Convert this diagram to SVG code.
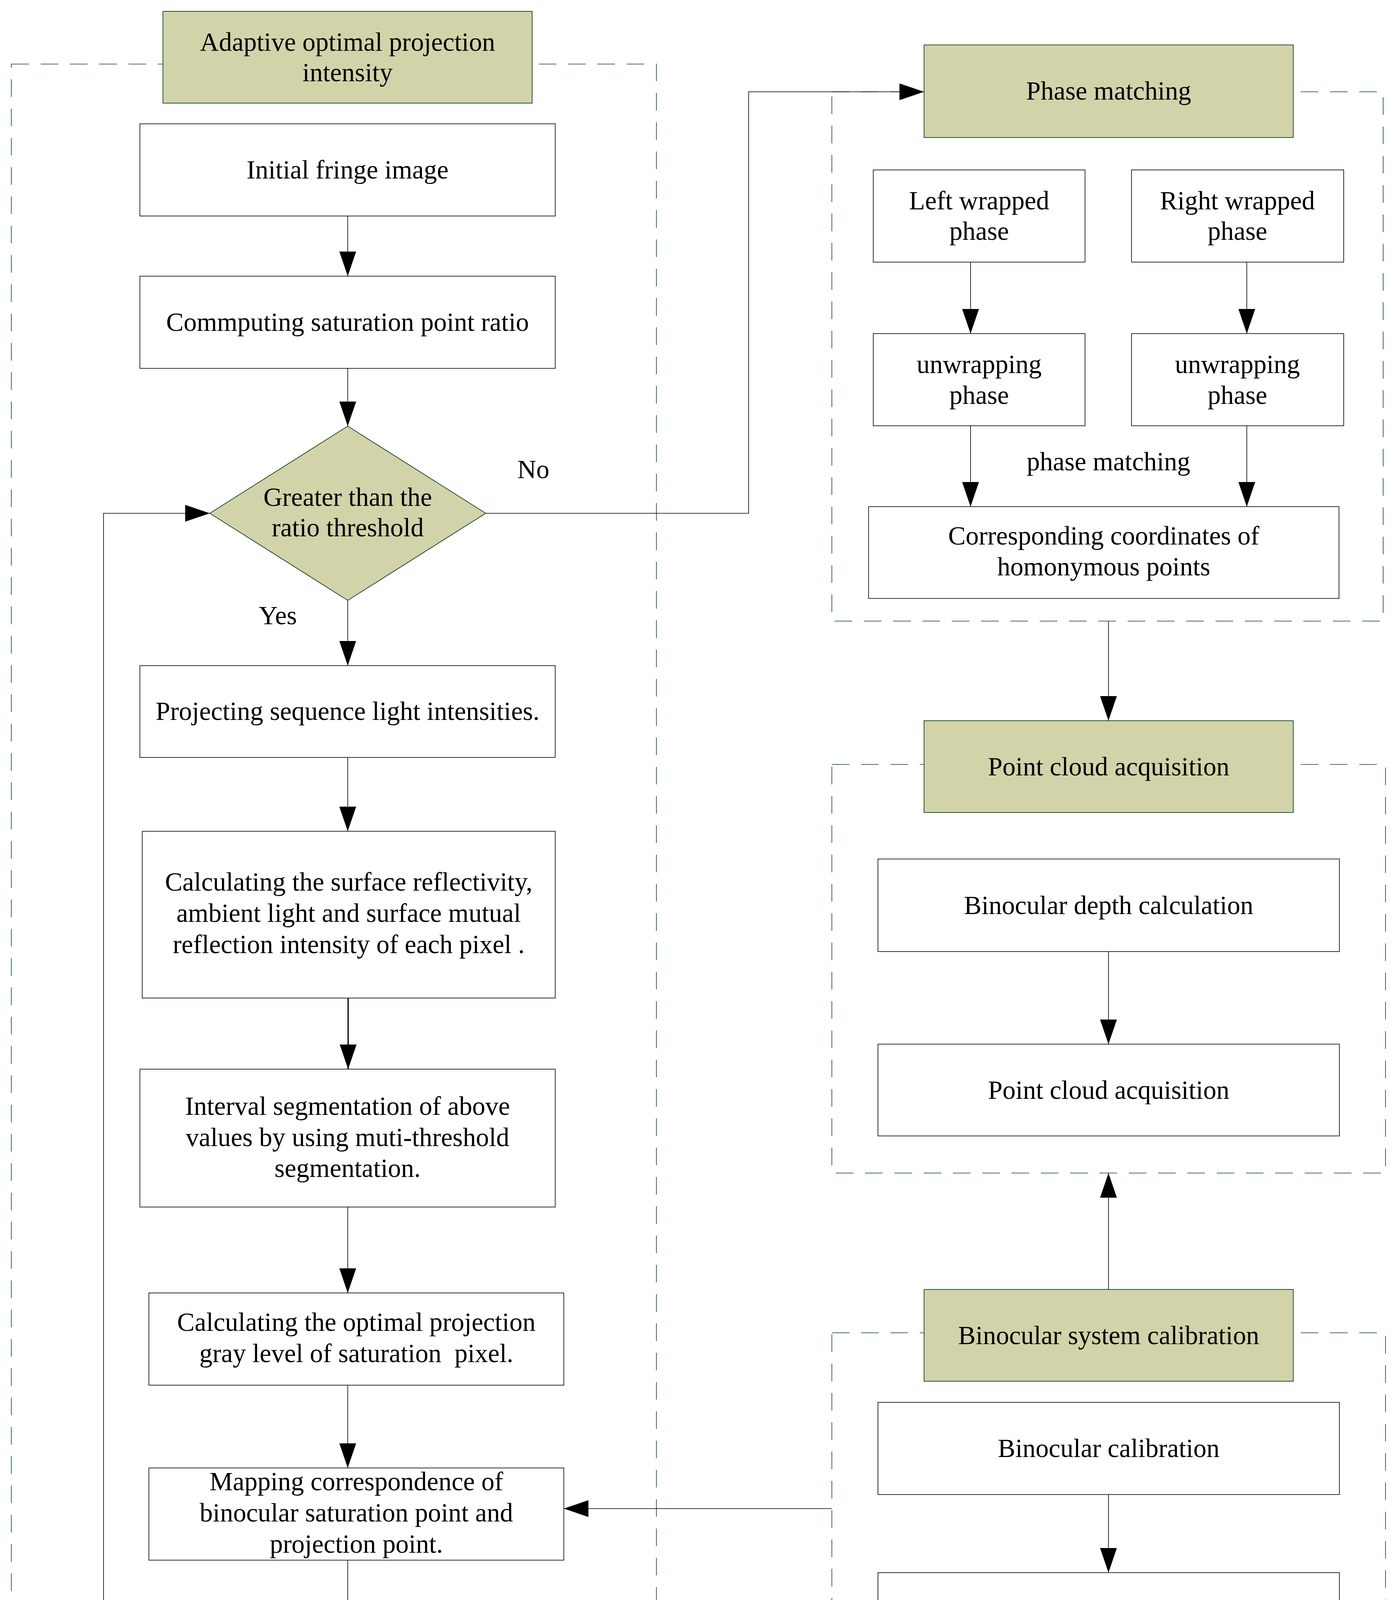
<svg xmlns="http://www.w3.org/2000/svg" width="3578" height="4656" viewBox="0 0 3578 4656">
<style>
text{font-family:"Liberation Serif","Times New Roman",serif;font-size:67px;fill:#000;text-anchor:middle}
.box{fill:#fff;stroke:#000;stroke-width:1.6}
.hdr{fill:#D3D3AA;stroke:#0A4A24;stroke-width:1.8}
.grp{fill:none;stroke:#0A4A24;stroke-width:1.6;stroke-dasharray:45 30}
.cn{fill:none;stroke:#000;stroke-width:1.6}
.thick{stroke-width:3.2}
</style>
<defs>
<marker id="ah" markerUnits="userSpaceOnUse" markerWidth="64" markerHeight="44" refX="63" refY="21.5" orient="auto">
<path d="M0,0 L63,21.5 L0,43 Z" fill="#000"/>
</marker>
</defs>
<rect width="3578" height="4656" fill="#fff"/>
<g id="groups">
<rect id="g_adaptive" class="grp" x="29" y="164" width="1651" height="4466"/>
<rect id="g_phase" class="grp" x="2129" y="235" width="1411" height="1355"/>
<rect id="g_pointcloud" class="grp" x="2129" y="1957" width="1417" height="1046"/>
<rect id="g_calib" class="grp" x="2129" y="3412" width="1417" height="895"/>
</g>
<g id="connectors">
<line class="cn" x1="890" y1="553" x2="890" y2="707" marker-end="url(#ah)"/>
<line class="cn" x1="890" y1="943" x2="890" y2="1091" marker-end="url(#ah)"/>
<line class="cn" x1="890" y1="1537" x2="890" y2="1704" marker-end="url(#ah)"/>
<line class="cn" x1="890" y1="1939" x2="890" y2="2128" marker-end="url(#ah)"/>
<line class="cn thick" x1="891" y1="2555" x2="891" y2="2737" marker-end="url(#ah)"/>
<line class="cn" x1="890" y1="3090" x2="890" y2="3310" marker-end="url(#ah)"/>
<line class="cn" x1="890" y1="3546" x2="890" y2="3758" marker-end="url(#ah)"/>
<line class="cn" x1="890" y1="3994" x2="890" y2="4230" marker-end="url(#ah)"/>
<polyline class="cn" points="381,4371 265,4371 265,1314 537,1314" marker-end="url(#ah)"/>
<polyline class="cn" points="1243,1314 1916,1314 1916,235 2365,235" marker-end="url(#ah)"/>
<line class="cn" x1="2484" y1="671" x2="2484" y2="854" marker-end="url(#ah)"/>
<line class="cn" x1="3191" y1="671" x2="3191" y2="854" marker-end="url(#ah)"/>
<line class="cn" x1="2484" y1="1090" x2="2484" y2="1297" marker-end="url(#ah)"/>
<line class="cn" x1="3191" y1="1090" x2="3191" y2="1297" marker-end="url(#ah)"/>
<line class="cn" x1="2837" y1="1590" x2="2837" y2="1845" marker-end="url(#ah)"/>
<line class="cn" x1="2837" y1="2436" x2="2837" y2="2673" marker-end="url(#ah)"/>
<line class="cn" x1="2837" y1="3301" x2="2837" y2="3003" marker-end="url(#ah)"/>
<line class="cn" x1="2837" y1="3826" x2="2837" y2="4026" marker-end="url(#ah)"/>
<line class="cn" x1="2129" y1="3862" x2="1443" y2="3862" marker-end="url(#ah)"/>
</g>
<g id="labels">
<text x="1365" y="1224">No</text>
<text x="711" y="1598">Yes</text>
<text x="2837" y="1204">phase matching</text>
</g>
<g id="n_title"><rect class="hdr" x="417" y="29" width="945" height="235"/><text x="889.5" y="130">Adaptive optimal projection</text><text x="889.5" y="208">intensity</text></g>
<g id="n_initial"><rect class="box" x="358" y="317" width="1063" height="236"/><text x="889.5" y="457">Initial fringe image</text></g>
<g id="n_comp"><rect class="box" x="358" y="707" width="1063" height="236"/><text x="889.5" y="847">Commputing saturation point ratio</text></g>
<g id="n_decision"><polygon class="hdr" points="890,1091 1243,1314 890,1537 537,1314"/><text x="890" y="1295">Greater than the</text><text x="890" y="1373">ratio threshold</text></g>
<g id="n_proj"><rect class="box" x="358" y="1704" width="1063" height="235"/><text x="889.5" y="1843">Projecting sequence light intensities.</text></g>
<g id="n_calc"><rect class="box" x="364" y="2128" width="1057" height="427"/><text x="892.5" y="2280">Calculating the surface reflectivity,</text><text x="892.5" y="2360">ambient light and surface mutual</text><text x="892.5" y="2440">reflection intensity of each pixel .</text></g>
<g id="n_interval"><rect class="box" x="358" y="2737" width="1063" height="353"/><text x="889.5" y="2854">Interval segmentation of above</text><text x="889.5" y="2934">values by using muti-threshold</text><text x="889.5" y="3013">segmentation.</text></g>
<g id="n_calcopt"><rect class="box" x="381" y="3310" width="1062" height="236"/><text x="912" y="3407">Calculating the optimal projection</text><text x="912" y="3487" xml:space="preserve">gray level of saturation  pixel.</text></g>
<g id="n_map"><rect class="box" x="381" y="3758" width="1062" height="236"/><text x="912" y="3815">Mapping correspondence of</text><text x="912" y="3895">binocular saturation point and</text><text x="912" y="3975">projection point.</text></g>
<g id="n_gen"><rect class="box" x="381" y="4230" width="1062" height="235"/><text x="912" y="4329">Generating optimal gray-scale fringe</text><text x="912" y="4408">image.</text></g>
<g id="n_pm"><rect class="hdr" x="2365" y="115" width="945" height="237"/><text x="2837.5" y="255">Phase matching</text></g>
<g id="n_lwp"><rect class="box" x="2235" y="435" width="542" height="236"/><text x="2506" y="536">Left wrapped</text><text x="2506" y="614">phase</text></g>
<g id="n_rwp"><rect class="box" x="2896" y="435" width="543" height="236"/><text x="3167" y="536">Right wrapped</text><text x="3167" y="614">phase</text></g>
<g id="n_luw"><rect class="box" x="2235" y="854" width="542" height="236"/><text x="2506" y="955">unwrapping</text><text x="2506" y="1034">phase</text></g>
<g id="n_ruw"><rect class="box" x="2896" y="854" width="543" height="236"/><text x="3167" y="955">unwrapping</text><text x="3167" y="1034">phase</text></g>
<g id="n_corr"><rect class="box" x="2223" y="1297" width="1204" height="235"/><text x="2825" y="1394">Corresponding coordinates of</text><text x="2825" y="1473">homonymous points</text></g>
<g id="n_pca_h"><rect class="hdr" x="2365" y="1845" width="945" height="235"/><text x="2837.5" y="1985">Point cloud acquisition</text></g>
<g id="n_depth"><rect class="box" x="2247" y="2199" width="1181" height="237"/><text x="2837.5" y="2340">Binocular depth calculation</text></g>
<g id="n_pca"><rect class="box" x="2247" y="2673" width="1181" height="235"/><text x="2837.5" y="2813">Point cloud acquisition</text></g>
<g id="n_bsc"><rect class="hdr" x="2365" y="3301" width="945" height="235"/><text x="2837.5" y="3441">Binocular system calibration</text></g>
<g id="n_bcal"><rect class="box" x="2247" y="3590" width="1181" height="236"/><text x="2837.5" y="3730">Binocular calibration</text></g>
<g id="n_cam"><rect class="box" x="2247" y="4026" width="1181" height="235"/><text x="2837.5" y="4165">Camera-projector calibration</text></g>
</svg>
